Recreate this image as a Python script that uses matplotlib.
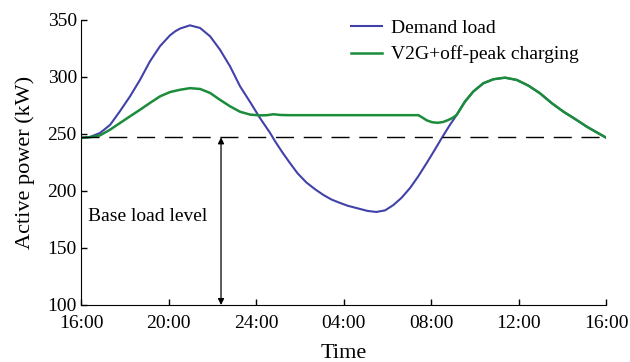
import matplotlib
matplotlib.use("Agg")
import matplotlib.pyplot as plt

# hours after 16:00
demand_hours = [0, 0.41, 0.87, 1.33, 1.78, 2.24, 2.7, 3.15, 3.61, 4.07, 4.3,
                4.53, 4.98, 5.44, 5.9, 6.35, 6.81, 7.27, 7.73, 8.18, 8.64,
                8.87, 9.2, 9.55, 9.9, 10.3, 10.7, 11.08, 11.45, 11.84, 12.2,
                12.6, 13.1, 13.5, 13.9, 14.28, 14.65, 15.04, 15.42, 15.8,
                16.15, 16.49, 16.83, 17.17, 17.55, 17.93, 18.39, 18.85, 19.38,
                19.92, 20.45, 20.98, 21.52, 22.05, 22.58, 23.12, 23.65, 24.0]
demand_kw = [246.5, 247.4, 250.9, 258, 270, 283, 297.6, 313.7, 327, 336.6,
             340, 342.5, 345.3, 343, 335.7, 324, 309.4, 291.8, 278, 264,
             251, 243.6, 234, 224.5, 215.5, 207.5, 201.5, 196.5, 192.5,
             189.5, 187, 185, 182.5, 181.6, 183, 187.7, 194, 202.6, 213,
             224.5, 235.5, 246.5, 257, 266.7, 278.4, 287.2, 294.5, 298,
             299.4, 297.4, 292.4, 285.7, 277, 269.6, 263.2, 256.4, 250.6,
             246.8]

v2g_hours = [0, 0.41, 0.87, 1.33, 1.78, 2.24, 2.7, 3.15, 3.61, 4.07, 4.53,
             4.98, 5.44, 5.9, 6.35, 6.81, 7.27, 7.73, 8.18, 8.5, 8.8, 9.1,
             9.5, 12.0, 15.42, 15.6, 15.8, 16.05, 16.3, 16.55, 16.79, 17.0,
             17.17, 17.55, 17.93, 18.39, 18.85, 19.38, 19.92, 20.45, 20.98,
             21.52, 22.05, 22.58, 23.12, 23.65, 24.0]
v2g_kw = [246.5, 247.2, 248.8, 253.8, 259.6, 265.5, 271.3, 277.2, 283,
          286.8, 288.8, 290.2, 289.5, 286, 280, 274.3, 269.5, 267, 266.3,
          266.5, 267.3, 266.7, 266.5, 266.5, 266.5, 264.5, 262, 260.3,
          259.8, 260.5, 262.3, 264.3, 266.7, 278.4, 287.2, 294.5, 298,
          299.4, 297.4, 292.4, 285.7, 277, 269.6, 263.2, 256.4, 250.6,
          246.8]

base_level = 247
arrow_hour = 6.4
tick_hours = [0, 4, 8, 12, 16, 20, 24]
tick_labels = ["16:00", "20:00", "24:00", "04:00", "08:00", "12:00", "16:00"]

plt.rcParams["font.family"] = ["Liberation Serif", "DejaVu Serif"]

fig = plt.figure(figsize=(6.3, 3.62), dpi=100)
ax = fig.add_axes([0.1286, 0.1575, 0.8334, 0.7873])

ax.plot(demand_hours, demand_kw, color="#4141AA", lw=1.5, label="Demand load")
ax.plot(v2g_hours, v2g_kw, color="#1A8C3A", lw=1.8,
        label="V2G+off-peak charging")
ax.plot([0, 24], [base_level, base_level], color="black", lw=1.0,
        dashes=(13, 7))

# double arrow marking the base load
ax.annotate("", xy=(arrow_hour, 100), xytext=(arrow_hour, base_level),
            arrowprops=dict(arrowstyle="<|-|>", color="black", lw=0.9,
                            mutation_scale=9, shrinkA=0, shrinkB=0))
ax.text(0.33, 178, "Base load level", fontsize=14, va="center", ha="left")

ax.set_xlim(0, 24)
ax.set_ylim(100, 350)
ax.set_xticks(tick_hours)
ax.set_xticklabels(tick_labels)
ax.set_yticks([100, 150, 200, 250, 300, 350])
ax.tick_params(direction="in", length=4, width=1, labelsize=14)
ax.tick_params(axis="x", pad=7)
ax.tick_params(axis="y", pad=3)
for side in ("top", "right"):
    ax.spines[side].set_visible(False)

ax.set_xlabel("Time", fontsize=16, labelpad=9)
ax.set_ylabel("Active power (kW)", fontsize=16, labelpad=9)

ax.legend(loc="upper left", bbox_to_anchor=(0.5, 1.03), frameon=False,
          fontsize=14, handlelength=1.6, handletextpad=0.45,
          labelspacing=0.45, borderaxespad=0)

fig.savefig("out.png", dpi=100)
